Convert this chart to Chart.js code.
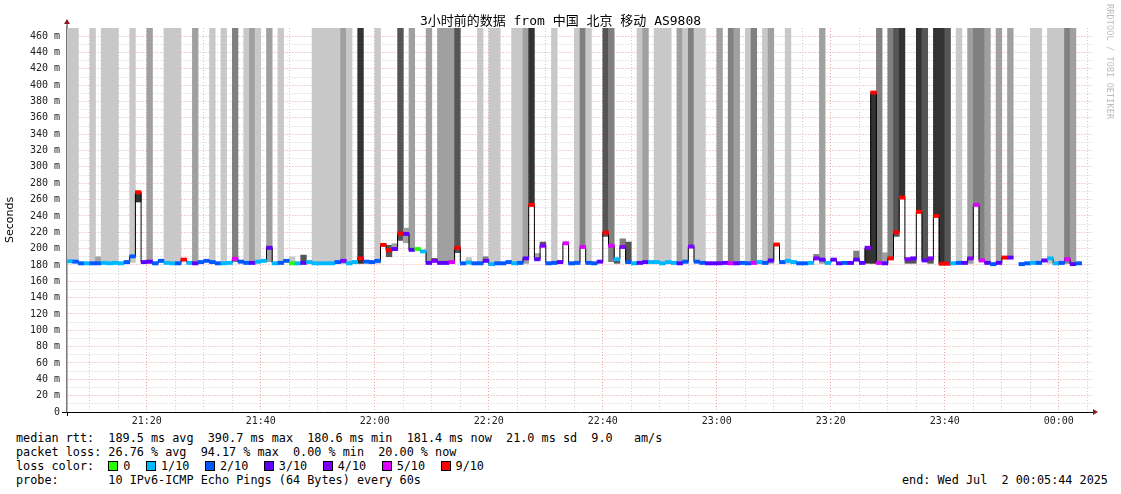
<!DOCTYPE html>
<html>
<head>
<meta charset="utf-8">
<script src="https://cdn.jsdelivr.net/npm/chart.js@4.4.1/dist/chart.umd.min.js"></script>
<style>
body { margin: 0; background: #fff; width: 1121px; height: 494px; overflow: hidden; position: relative; }
#wrap { position: absolute; left: 0; top: 0; width: 1121px; height: 430px; }
.txt { position: absolute; font-family: "DejaVu Sans Mono", monospace; font-size: 11.8px; line-height: 14px; white-space: pre; color: #000; }
#title { position: absolute; left: 0; width: 1121px; top: 13px; text-align: center; font-family: "DejaVu Sans Mono", "Noto Sans CJK SC", monospace; font-size: 13px; line-height: 16px; color: #000; }
#rrd { position: absolute; left: 1105px; top: 4px; writing-mode: vertical-rl; font-family: "DejaVu Sans Mono", monospace; font-size: 8.4px; color: #bbb; letter-spacing: 0.2px; }
.lg { display: inline-block; }
.box { display: inline-block; width: 8px; height: 8px; border: 1px solid #000; margin-right: 5px; vertical-align: -1px; }
</style>
</head>
<body>
<div id="wrap"><canvas id="smoke"></canvas></div>
<div id="title">3小时前的数据 from 中国 北京 移动 AS9808</div>
<div id="rrd">RRDTOOL / TOBI OETIKER</div>
<div class="txt" style="left:16px;top:431px">median rtt:  189.5 ms avg  390.7 ms max  180.6 ms min  181.4 ms now  21.0 ms sd  9.0   am/s</div>
<div class="txt" style="left:16px;top:445px">packet loss: 26.76 % avg  94.17 % max  0.00 % min  20.00 % now</div>
<div class="txt" style="left:16px;top:459px" id="legend">loss color:  </div>
<div class="txt" style="left:16px;top:473px">probe:       10 IPv6-ICMP Echo Pings (64 Bytes) every 60s</div>
<div class="txt" style="left:902px;top:473px">end: Wed Jul  2 00:05:44 2025</div>
<script>
// one column per minute, first column = 21:06
const startMinute = 21 * 60 + 6;

const medianRtt = [
  184.5,184,182,182,182,182,182.5,182,182.5,182,
  183.5,190.5,269,183.5,184,182,185,182.5,182,182,
  186.5,182.5,182,183.5,185,183.5,182,182,182.5,187.5,
  184,182.5,182.5,184,185,201,182,182.5,185,182,
  182,182.5,183.5,182,182,182,182,183.5,185,182,
  183.5,188,184,183.5,185,204.5,198,199.5,218.5,218,
  198.5,199.5,196.5,182.5,185,182.5,182.5,183.5,201,182,
  183,182,182,185,181,182,182,183.5,182,182.5,
  188,253.5,187,203.5,182,182.5,183.5,206.5,182,182.5,
  202,182.5,182,184,219.5,203.5,187,202,183.5,182,
  182.5,183.5,183.5,183.5,182,183.5,182.5,182,184,202.5,
  184,182.5,182,182,182,182.5,182,182,182.5,182,
  182.5,183.5,182.5,185.5,205,183.5,185,183.5,182,182,
  182.5,188,186.5,182.5,186.5,182,182.5,182.5,186.5,182.5,
  201,391,182.5,182,188,220,262.5,187,188,245,
  185.5,188,240,181.5,181.5,182,182.5,182.5,188,253.5,
  185.5,182.5,181,182.5,189,189,null,181,182,182.5,
  182.5,185.5,188,182,182.5,187,181,182,null,null
];

// index into lossColors
const lossIdx = [
  1,2,2,1,2,2,1,1,1,1,
  2,2,6,3,3,2,2,1,1,2,
  6,1,3,2,2,2,2,1,1,5,
  2,2,3,1,1,3,1,2,2,0,
  1,3,1,1,1,1,1,2,4,1,
  1,6,2,2,2,6,6,3,6,3,
  3,0,1,3,4,3,3,5,6,2,
  1,2,2,3,1,2,2,2,1,2,
  3,6,3,4,2,2,3,5,2,2,
  5,2,2,3,6,5,1,4,2,1,
  3,3,1,1,1,1,1,3,2,4,
  2,2,3,3,3,3,5,3,2,2,
  5,1,2,3,6,2,1,1,2,2,
  1,4,3,1,3,3,2,3,3,3,
  4,6,5,3,6,6,6,4,3,6,
  3,4,6,6,6,1,2,3,4,5,
  5,3,2,3,6,3,0,2,2,1,
  2,3,1,1,2,5,3,2,0,0
];

const smokeLo = [
  183,183,null,null,182,182,182,182,182,null,
  null,183,257,null,182,null,null,182,182,182,
  null,null,182,null,null,183,null,182,null,184,
  null,182,182,182,null,184,null,182,null,182,
  null,183,null,182,182,182,182,182,182,182,
  null,182,null,null,182,null,190,199,210,207,
  198,null,null,182,185,182,182,182,195,null,
  183,null,182,185,181,182,null,null,182,182,
  182,253,188,203,null,182,null,null,null,182,
  202,182,null,null,215,184,182,202,183,null,
  182,182,null,182,182,182,null,182,182,202,
  184,182,null,null,182,null,182,182,null,182,
  182,null,182,182,null,null,182,null,null,null,
  null,188,182,null,null,null,null,null,186,null,
  182,182,182,182,188,215,262,182,182,245,
  185,182,240,181,181,null,182,null,182,253,
  185,182,null,182,null,189,null,null,null,182,
  182,null,182,182,182,182,182,null,null,null
];

const smokeHi = [
  470,470,null,null,470,190,470,470,470,null,
  null,470,268,null,470,null,null,470,470,470,
  null,null,470,null,null,470,null,470,null,470,
  null,470,470,470,null,470,null,470,null,190,
  null,192,null,470,470,470,470,470,470,470,
  null,470,null,null,470,null,204,206,470,225,
  470,null,null,470,188,470,470,470,470,null,
  189,null,470,190,470,470,null,null,470,470,
  470,470,194,208,null,470,null,null,null,470,
  470,470,null,null,470,470,185,212,208,null,
  470,470,null,470,470,470,null,470,470,470,
  470,470,null,null,470,null,470,470,null,470,
  470,null,470,470,null,null,470,null,null,null,
  null,193,470,null,null,null,null,null,197,null,
  200,389,470,195,470,470,470,186,188,470,
  470,188,470,470,470,null,470,null,470,470,
  470,470,null,470,null,470,null,null,null,470,
  470,null,470,470,470,470,470,null,null,null
];

// index into shadeColors, 0 = no smoke
const smokeShade = [
  1,1,0,0,1,2,1,1,1,0,
  0,1,5,0,2,0,0,1,1,1,
  0,0,2,0,0,1,0,1,0,3,
  0,1,2,1,0,2,0,1,0,1,
  0,4,0,1,1,1,1,1,2,1,
  0,5,0,0,1,0,4,2,4,2,
  2,0,0,2,4,2,2,2,4,0,
  1,0,1,3,1,1,0,0,1,1,
  2,5,2,4,0,1,0,0,0,1,
  3,1,0,0,4,3,4,3,4,0,
  1,2,0,1,1,1,0,2,1,3,
  1,1,0,0,2,0,3,2,0,1,
  3,0,1,2,0,0,1,0,0,0,
  0,3,2,0,0,0,0,0,3,0,
  5,5,3,2,3,4,5,4,4,5,
  4,4,5,5,4,0,1,0,2,3,
  3,2,0,2,0,2,0,0,0,1,
  1,0,1,1,1,3,2,0,0,0
];

const lossColors = ['#26ff00', '#00b8ff', '#0059ff', '#5e00ff', '#7e00ff', '#dd00ff', '#ff0000'];
const lossLabels = ['0', '1/10', '2/10', '3/10', '4/10', '5/10', '9/10'];
const shadeColors = [null, '#c8c8c8', '#a0a0a0', '#808080', '#555555', '#333333'];

// legend row
let lg = document.getElementById('legend');
lossLabels.forEach((l, i) => {
    lg.innerHTML += `<span class="lg"><span class="box" style="background:${lossColors[i]}"></span>${l}</span>` +
        (i < lossLabels.length - 1 ? '<span class="lg" style="width:15.5px"></span>' : '');
});

let smokeData = [], smokeColors = [], markData = [], markColors = [], lineData = [];
for (let i = 0; i < medianRtt.length; i++) {
    let x = i + 0.5;
    lineData.push({x: x, y: medianRtt[i]});
    if (medianRtt[i] !== null) {
        markData.push({x: x, y: [medianRtt[i] - 2, medianRtt[i] + 2]});
        markColors.push(lossColors[lossIdx[i]]);
    }
    if (smokeShade[i] > 0) {
        smokeData.push({x: x, y: [smokeLo[i], smokeHi[i]]});
        smokeColors.push(shadeColors[smokeShade[i]]);
    }
}

function pad2(n) { return (n < 10 ? '0' : '') + n; }

const arrows = {
    id: 'arrows',
    afterDraw(chart) {
        const a = chart.chartArea, ctx = chart.ctx;
        ctx.save();
        ctx.strokeStyle = '#777';
        ctx.lineWidth = 1.5;
        ctx.beginPath(); ctx.moveTo(a.left, a.top); ctx.lineTo(a.left, a.top - 6); ctx.stroke();
        ctx.strokeStyle = '#000';
        ctx.lineWidth = 1;
        ctx.beginPath(); ctx.moveTo(a.left - 5, a.bottom + 0.5); ctx.lineTo(a.left, a.bottom + 0.5); ctx.stroke();
        ctx.beginPath(); ctx.moveTo(a.left + 0.5, a.bottom); ctx.lineTo(a.left + 0.5, a.bottom + 4); ctx.stroke();
        ctx.fillStyle = '#8b1c1c';
        ctx.beginPath();
        ctx.moveTo(a.left - 3, a.top - 4); ctx.lineTo(a.left + 3, a.top - 4); ctx.lineTo(a.left, a.top - 9);
        ctx.closePath(); ctx.fill();
        ctx.beginPath();
        ctx.moveTo(a.right, a.bottom - 3); ctx.lineTo(a.right, a.bottom + 3); ctx.lineTo(a.right + 5, a.bottom);
        ctx.closePath(); ctx.fill();
        ctx.restore();
    }
};

const tickFont = {family: 'DejaVu Sans Mono', size: 10};

new Chart(document.getElementById('smoke').getContext('2d'), {
    type: 'bar',
    data: {
        datasets: [{
            type: 'bar',
            data: markData,
            backgroundColor: markColors,
            borderWidth: 0,
            grouped: false,
            barPercentage: 1,
            categoryPercentage: 1,
            order: 1
        }, {
            type: 'line',
            data: lineData,
            stepped: 'middle',
            borderColor: '#000',
            borderWidth: 1,
            pointRadius: 0,
            spanGaps: false,
            order: 2
        }, {
            type: 'bar',
            data: smokeData,
            backgroundColor: smokeColors,
            borderWidth: 0,
            grouped: false,
            barPercentage: 1,
            categoryPercentage: 1,
            order: 3
        }]
    },
    options: {
        responsive: true,
        maintainAspectRatio: false,
        animation: false,
        events: [],
        layout: {padding: {left: 0, top: 28, right: 28, bottom: 0}},
        plugins: {legend: {display: false}, tooltip: {enabled: false}},
        scales: {
            x: {
                type: 'linear',
                min: 0,
                max: 180,
                offset: false,
                z: 1,
                afterBuildTicks: (scale) => {
                    let t = [];
                    for (let m = 4; m <= 180; m += 5) t.push({value: m});
                    scale.ticks = t;
                },
                afterFit: (scale) => { scale.height = 18; },
                ticks: {
                    autoSkip: false,
                    maxRotation: 0,
                    padding: 3,
                    color: '#222',
                    font: tickFont,
                    callback: (v) => {
                        let t = (startMinute + v) % 1440;
                        return t % 20 === 0 ? pad2(Math.floor(t / 60)) + ':' + pad2(t % 60) : '';
                    }
                },
                grid: {
                    offset: false,
                    drawTicks: false,
                    lineWidth: 1,
                    color: (ctx) => {
                        if (!ctx.tick) return 'rgba(0,0,0,0)';
                        return (startMinute + ctx.tick.value) % 20 === 0 ? '#e9a4a4' : '#cfcfcf';
                    }
                },
                border: {display: true, color: '#000', width: 1, dash: [1, 2]}
            },
            y: {
                min: 0,
                max: 470,
                z: 1,
                afterBuildTicks: (scale) => {
                    let t = [];
                    for (let v = 0; v <= 460; v += 10) t.push({value: v});
                    scale.ticks = t;
                },
                afterFit: (scale) => { scale.width = 67; },
                title: {
                    display: true,
                    text: 'Seconds',
                    color: '#000',
                    font: {family: 'DejaVu Sans', size: 11},
                    padding: {top: 4, bottom: 0}
                },
                ticks: {
                    autoSkip: false,
                    padding: 7,
                    color: '#222',
                    font: tickFont,
                    callback: (v) => v % 20 === 0 ? (v === 0 ? '0' : v + ' m') : ''
                },
                grid: {
                    drawTicks: false,
                    lineWidth: (ctx) => (ctx.tick && ctx.tick.value === 0) ? 0 : 1,
                    color: (ctx) => {
                        if (!ctx.tick) return 'rgba(0,0,0,0)';
                        return ctx.tick.value % 20 === 0 ? '#e9a4a4' : '#cfcfcf';
                    }
                },
                border: {display: true, color: '#777', width: 1.5, dash: [1, 2]}
            }
        }
    },
    plugins: [arrows]
});
</script>
</body>
</html>
